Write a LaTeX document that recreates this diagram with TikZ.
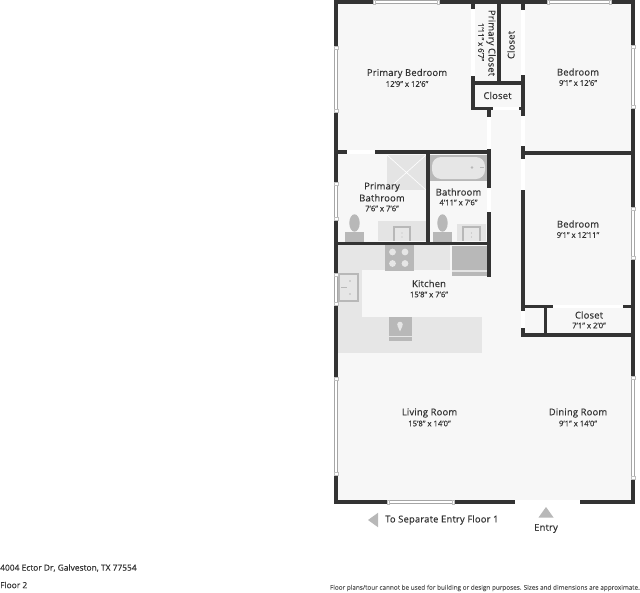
\documentclass[tikz,border=0pt]{standalone}
\usepackage{fontspec}
\setmainfont{Open Sans}
\definecolor{wallc}{HTML}{333333}
\definecolor{floorc}{HTML}{F7F7F7}
\definecolor{counterc}{HTML}{E6E6E6}
\definecolor{fixc}{HTML}{B8B8B8}
\definecolor{lightfix}{HTML}{E4E4E4}
\definecolor{txt}{HTML}{333333}
\tikzset{
  wall/.style={line width=3.8pt,color=wallc,line cap=butt},
  thinwall/.style={line width=3.4pt,color=wallc,line cap=butt},
  roomname/.style={font=\fontsize{9.4}{11}\selectfont\addfontfeatures{LetterSpace=2,FakeBold=0.35},text=txt,inner sep=0pt,align=center},
  roomdim/.style={font=\fontsize{7.7}{9}\selectfont\addfontfeatures{FakeBold=0.2},text=txt,inner sep=0pt,align=center},
  note/.style={font=\fontsize{8.4}{10}\selectfont\addfontfeatures{FakeBold=0.35},text=txt,inner sep=0pt,anchor=west},
}
\newcommand{\winH}[3]{%
  \fill[white] (#1,#3-2) rectangle (#2,#3+2);
  \draw[gray!70,line width=.6pt] (#1+2,#3-1.4) -- (#2-2,#3-1.4) (#1+2,#3+1.4) -- (#2-2,#3+1.4);
  \draw[gray!50,line width=.5pt,fill=white] (#1,#3-2) rectangle (#1+2,#3+2) (#2-2,#3-2) rectangle (#2,#3+2);}
\newcommand{\winV}[3]{%
  \fill[white] (#1-2,#2) rectangle (#1+2,#3);
  \draw[gray!70,line width=.6pt] (#1-1.4,#2+2) -- (#1-1.4,#3-2) (#1+1.4,#2+2) -- (#1+1.4,#3-2);
  \draw[gray!50,line width=.5pt,fill=white] (#1-2,#2) rectangle (#1+2,#2+3) (#1-2,#3-3) rectangle (#1+2,#3);}
\begin{document}
\begin{tikzpicture}[x=1pt,y=-1pt]
\useasboundingbox (0,0) rectangle (640,592);
\fill[white] (0,0) rectangle (640,592);
% floor
\fill[floorc] (336,2) rectangle (633,502);
% kitchen counters
\fill[counterc] (338,245) rectangle (450,270);
\fill[counterc] (338,245) rectangle (362,353);
\fill[counterc] (338,317) rectangle (482,353);
% stove
\fill[fixc] (385,245) rectangle (414,271);
\fill[counterc] (392.5,252) circle (3.4) (405,252) circle (3.4) (392.5,263.5) circle (3.4) (405,263.5) circle (3.4);
% fridge
\fill[fixc] (452,246) rectangle (487,270);
\fill[lightfix] (452,270) rectangle (487,271.5);
\fill[fixc] (452,271.5) rectangle (487,276);
% kitchen sink
\fill[fixc] (338,273) rectangle (359,302);
\fill[counterc] (340,275) rectangle (357,300);
\fill[fixc] (350,281) circle (.9) (350,294) circle (.9);
\fill[fixc] (341,286.5) rectangle (347,288);
% dishwasher and island sink
\fill[fixc] (389,317) rectangle (412,336);
\fill[counterc] (389,336) rectangle (412,337);
\fill[fixc] (389,337) rectangle (412,341);
\fill[counterc] (400,324.5) circle (2.8);
\fill[counterc] (397.6,326) -- (400,331.5) -- (402.4,326) -- cycle;
% shower
\fill[lightfix] (387,155) rectangle (426,190);
\draw[white,line width=.6pt] (387,155) -- (426,190) (426,155) -- (387,190);
% tub
\fill[fixc] (430,155) rectangle (487,181);
\fill[counterc,rounded corners=9pt] (432,157) rectangle (485,179);
\fill[fixc] (472,167.5) circle (1.3);
\fill[fixc] (480,167) rectangle (484,168);
% primary bathroom toilet and vanity
\fill[lightfix] (378,221) rectangle (426,241);
\fill[fixc] (393,226) rectangle (411,241);
\fill[counterc] (395,228) rectangle (409,241);
\fill[fixc] (402,233) circle (.7) (402,237) circle (.7);
\fill[fixc] (345,232) rectangle (364,241.5);
\fill[fixc] (354.5,223) ellipse (5.2 and 8.7);
% bathroom toilet and vanity
\fill[lightfix] (457,224) rectangle (486,241);
\fill[fixc] (462,226) rectangle (481,241);
\fill[counterc] (464,228) rectangle (479,241);
\fill[fixc] (471.5,233) circle (.7) (471.5,237) circle (.7);
\fill[fixc] (433,232) rectangle (452,241.5);
\fill[fixc] (442.5,223) ellipse (5.2 and 8.7);
% outer walls
\draw[wall] (334.1,2) -- (634.9,2);
\draw[wall] (336,2) -- (336,502);
\draw[wall] (633,2) -- (633,502);
\draw[wall] (334.1,501.8) -- (634.9,501.8);
% windows
\winH{373}{439}{2}
\winH{547}{611}{2}
\winV{336}{46}{112}
\winV{336}{182}{220}
\winV{336}{273}{305}
\winV{336}{377}{475}
\winV{633}{45}{108}
\winV{633}{207}{259}
\winV{633}{376}{479}
\winH{387}{454}{501.8}
\fill[white] (515,499.6) rectangle (580,504);
% interior walls
\draw[thinwall] (336,152) -- (490.5,152);
\draw[thinwall] (336,243.3) -- (490.5,243.3);
\draw[thinwall] (428,152) -- (428,243.3);
\draw[wall] (489,109) -- (489,277);
\draw[wall] (473,2) -- (473,110);
\draw[thinwall] (499,2) -- (499,83);
\draw[thinwall] (473,83) -- (524,83);
\draw[thinwall] (473,108.5) -- (524,108.5);
\draw[wall] (523,2) -- (523,335);
\draw[thinwall] (523,153) -- (634,153);
\draw[thinwall] (523,306.5) -- (634,306.5);
\draw[thinwall] (545.5,306.5) -- (545.5,335);
\draw[thinwall] (521.2,335) -- (634,335);
% door gaps
\fill[white] (347,150) rectangle (375,154);
\fill[white] (470.9,9) rectangle (475.1,76);
\fill[white] (520.9,10) rectangle (525.1,75);
\fill[white] (493,106.6) rectangle (519,110.4);
\fill[white] (520.9,116) rectangle (525.1,146);
\fill[white] (520.9,159) rectangle (525.1,190);
\fill[white] (486.9,117) rectangle (491.1,149);
\fill[white] (486.9,188) rectangle (491.1,212);
\fill[white] (553,304.6) rectangle (623,308.4);
\fill[white] (520.9,311) rectangle (525.1,328);
% labels
\node[roomname] (pb) at (407,73.5) {Primary Bedroom};
\node[roomdim] (pbd) at (407,84) {12'9" x 12'6"};
\node[roomname] (bd1) at (578,72) {Bedroom};
\node[roomdim] (bd1d) at (578,83) {9'1" x 12'6"};
\node[roomname,rotate=-90] (pc) at (491,43) {Primary Closet};
\node[roomdim,rotate=-90] (pcd) at (481,42) {1'11" x 6'7"};
\node[roomname,rotate=90] (cl1) at (511,45) {Closet};
\node[roomname] (cl2) at (497.5,95.5) {Closet};
\node[roomname,align=center] (pba) at (382,192) {Primary\\[1pt]Bathroom};
\node[roomdim] (pbad) at (382,208.5) {7'6" x 7'6"};
\node[roomname] (ba) at (458.5,192) {Bathroom};
\node[roomdim] (bad) at (458.5,202.5) {4'11" x 7'6"};
\node[roomname] (bd2) at (578,224) {Bedroom};
\node[roomdim] (bd2d) at (578,235) {9'1" x 12'11"};
\node[roomname] (kit) at (429,283.5) {Kitchen};
\node[roomdim] (kitd) at (429,294.5) {15'8" x 7'6"};
\node[roomname] (cl3) at (589,315) {Closet};
\node[roomdim] (cl3d) at (589,325.5) {7'1" x 2'0"};
\node[roomname] (lr) at (429.5,413) {Living Room};
\node[roomdim] (lrd) at (429.5,423.5) {15'8" x 14'0"};
\node[roomname] (dr) at (578,413) {Dining Room};
\node[roomdim] (drd) at (578,423.5) {9'1" x 14'0"};
% arrows
\fill[fixc] (368,520) -- (378,512.8) -- (378,527.2) -- cycle;
\fill[fixc] (546,507) -- (553.5,517.5) -- (538.5,517.5) -- cycle;
\node[roomname,anchor=west] (sep) at (385,520) {To Separate Entry Floor 1};
\node[roomname] (ent) at (546,528.5) {Entry};
\node[note] (addr) at (0,568) {4004 Ector Dr, Galveston, TX 77554};
\node[note] (flr) at (0,585) {Floor 2};
\node[font=\fontsize{6.37}{7}\selectfont\addfontfeatures{FakeBold=0.35},text=txt!80,inner sep=0pt,anchor=east] (disc) at (640,588) {Floor plans/tour cannot be used for building or design purposes. Sizes and dimensions are approximate.};
\end{tikzpicture}
\end{document}
